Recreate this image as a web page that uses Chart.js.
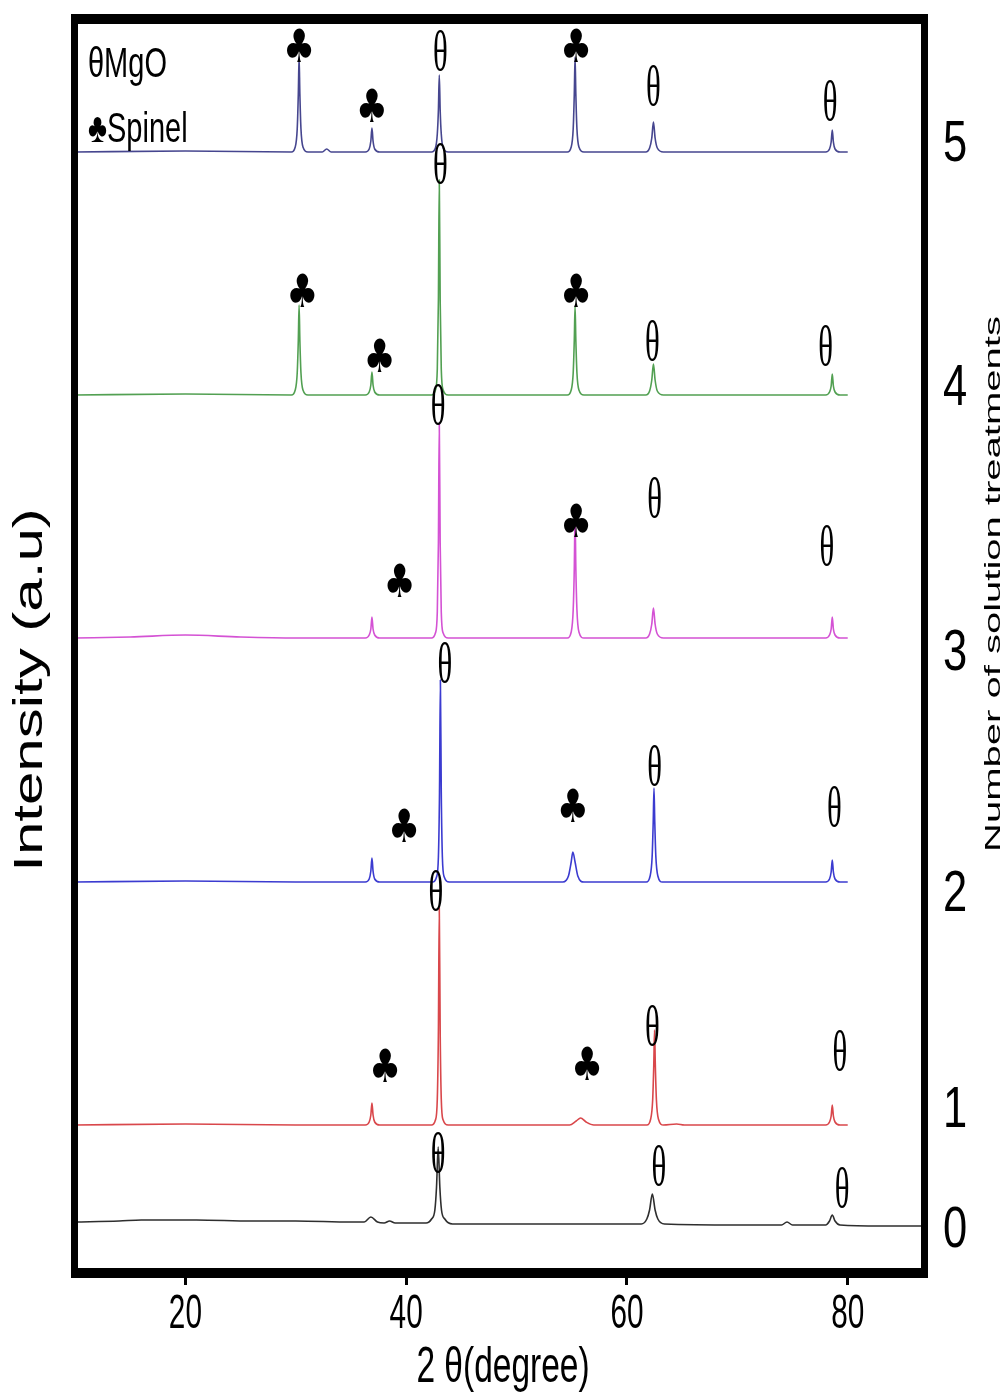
<!DOCTYPE html>
<html>
<head>
<meta charset="utf-8">
<title>XRD patterns after solution treatments</title>
<script src="https://cdn.jsdelivr.net/npm/chart.js@4.4.1/dist/chart.umd.min.js"></script>
<style>
  html, body { margin: 0; padding: 0; background: #fff; }
  canvas { display: block; }
</style>
</head>
<body>
<canvas id="xrdChart" width="1008" height="1398"></canvas>
<script>
// 2theta axis
const xMin = 10;
const xMax = 87;
const xTickValues = [20, 40, 60, 80];

// number of solution treatments, one pattern each (stacked bottom to top)
const treatmentLabels = ['0', '1', '2', '3', '4', '5'];
const treatmentLabelLevels = [46, 166, 383, 623, 888, 1132];
const offsets = [51, 148, 391, 635, 878, 1121];
const colors = ['#2e2e2e', '#d9474b', '#3b3bd0', '#d452d4', '#52a052', '#46468f'];

// [2theta, intensity above the pattern's own baseline]
const pattern0 = [
  [10, 0], [14, 1], [16, 2], [21, 2], [26, 1], [30, 1], [35, 0], [36.2, 0], [36.8, 5], [37.4, 0],
  [38.0, -1], [38.5, 1], [39.0, -1], [41.8, -1], [42.3, 3], [42.6, 12], [42.75, 35], [42.9, 75],
  [43.05, 35], [43.2, 12], [43.5, 3], [44.2, -2], [50, -2], [61.3, -2], [61.8, 3], [62.05, 12],
  [62.3, 28], [62.55, 12], [62.8, 3], [63.4, -2], [70, -3], [74.0, -3], [74.5, 0], [75.0, -3],
  [78.0, -3], [78.35, 1], [78.6, 7], [78.85, 1], [79.3, -3], [83, -4], [87, -4]
];
const pattern1 = [
  [10, 0], [20, 1], [30, 0], [36.3, 0], [36.65, 3], [36.8, 10], [36.9, 22], [37.0, 10], [37.15, 3],
  [37.6, 0], [42.3, 0], [42.65, 5], [42.82, 26], [42.92, 95], [43.0, 217], [43.08, 95], [43.18, 26],
  [43.35, 5], [43.8, 0], [54.8, 0], [55.4, 4], [55.8, 7], [56.3, 3], [57.0, 0], [61.8, 0],
  [62.15, 6], [62.33, 25], [62.43, 60], [62.5, 95], [62.57, 60], [62.67, 25], [62.85, 6], [63.3, 0],
  [64.5, 1], [65.2, 0], [78.0, 0], [78.35, 3], [78.5, 9], [78.6, 20], [78.7, 9], [78.85, 3],
  [79.3, 0], [80, 0]
];
const pattern2 = [
  [10, 0], [20, 1], [30, 0], [36.3, 0], [36.65, 3], [36.8, 11], [36.9, 24], [37.0, 11], [37.15, 3],
  [37.6, 0], [42.4, 0], [42.75, 5], [42.92, 25], [43.02, 90], [43.1, 202], [43.18, 90], [43.28, 25],
  [43.45, 5], [43.9, 0], [54.2, 0], [54.7, 6], [54.95, 20], [55.1, 30], [55.3, 20], [55.55, 6],
  [56.1, 0], [61.75, 0], [62.1, 6], [62.28, 25], [62.38, 60], [62.45, 94], [62.52, 60], [62.62, 25],
  [62.8, 6], [63.2, 0], [78.0, 0], [78.35, 3], [78.5, 10], [78.6, 22], [78.7, 10], [78.85, 3],
  [79.3, 0], [80, 0]
];
const pattern3 = [
  [10, 0], [15, 1], [20, 3], [25, 1], [30, 0], [36.3, 0], [36.65, 3], [36.8, 9], [36.9, 21],
  [37.0, 9], [37.15, 3], [37.6, 0], [42.3, 0], [42.65, 5], [42.82, 26], [42.92, 95], [43.0, 215],
  [43.08, 95], [43.18, 26], [43.35, 5], [43.8, 0], [54.6, 0], [54.95, 6], [55.13, 28], [55.23, 70],
  [55.3, 123], [55.37, 70], [55.47, 28], [55.65, 6], [56.1, 0], [61.7, 0], [62.05, 4], [62.25, 14],
  [62.4, 30], [62.55, 14], [62.75, 4], [63.3, 0], [78.0, 0], [78.35, 3], [78.5, 9], [78.6, 21],
  [78.7, 9], [78.85, 3], [79.3, 0], [80, 0]
];
const pattern4 = [
  [10, 0], [20, 1], [29.6, 0], [29.95, 5], [30.13, 22], [30.23, 55], [30.3, 90], [30.37, 55],
  [30.47, 22], [30.65, 5], [31.1, 0], [36.3, 0], [36.65, 3], [36.8, 10], [36.9, 23], [37.0, 10],
  [37.15, 3], [37.6, 0], [42.3, 0], [42.65, 5], [42.82, 26], [42.92, 95], [43.0, 215], [43.08, 95],
  [43.18, 26], [43.35, 5], [43.8, 0], [54.6, 0], [54.95, 5], [55.13, 22], [55.23, 55], [55.3, 89],
  [55.37, 55], [55.47, 22], [55.65, 5], [56.1, 0], [61.7, 0], [62.05, 4], [62.25, 15], [62.4, 31],
  [62.55, 15], [62.75, 4], [63.3, 0], [78.0, 0], [78.35, 3], [78.5, 9], [78.6, 21], [78.7, 9],
  [78.85, 3], [79.3, 0], [80, 0]
];
const pattern5 = [
  [10, 0], [20, 1], [29.6, 0], [29.95, 5], [30.13, 23], [30.23, 58], [30.3, 95], [30.37, 58],
  [30.47, 23], [30.65, 5], [31.1, 0], [32.4, 0], [32.8, 3], [33.2, 0], [36.3, 0], [36.65, 3],
  [36.8, 11], [36.9, 24], [37.0, 11], [37.15, 3], [37.6, 0], [42.3, 0], [42.65, 4], [42.82, 18],
  [42.92, 42], [43.0, 77], [43.08, 42], [43.18, 18], [43.35, 4], [43.8, 0], [54.6, 0], [54.95, 5],
  [55.13, 23], [55.23, 58], [55.3, 95], [55.37, 58], [55.47, 23], [55.65, 5], [56.1, 0], [61.7, 0],
  [62.05, 4], [62.25, 14], [62.4, 30], [62.55, 14], [62.75, 4], [63.3, 0], [78.0, 0], [78.35, 3],
  [78.5, 10], [78.6, 22], [78.7, 10], [78.85, 3], [79.3, 0], [80, 0]
];
const patterns = [pattern0, pattern1, pattern2, pattern3, pattern4, pattern5];

// phase marks: [pattern, 2theta, height above baseline, symbol]
const THETA = '\u03B8';
const CLUB = '\u2663';
const phaseMarks = [
  [5, 30.3, 107, CLUB], [5, 36.9, 47, CLUB], [5, 43.1, 102, THETA], [5, 55.4, 107, CLUB],
  [5, 62.4, 67, THETA], [5, 78.4, 52, THETA],
  [4, 43.1, 232, THETA], [4, 30.6, 105, CLUB], [4, 37.6, 40, CLUB], [4, 55.4, 105, CLUB],
  [4, 62.3, 55, THETA], [4, 78.0, 50, THETA],
  [3, 42.9, 234, THETA], [3, 39.4, 58, CLUB], [3, 55.4, 118, CLUB], [3, 62.5, 141, THETA],
  [3, 78.1, 93, THETA],
  [2, 43.5, 220, THETA], [2, 39.8, 57, CLUB], [2, 55.1, 77, CLUB], [2, 62.5, 117, THETA],
  [2, 78.8, 76, THETA],
  [1, 42.7, 235, THETA], [1, 38.1, 60, CLUB], [1, 56.4, 62, CLUB], [1, 62.3, 100, THETA],
  [1, 79.3, 75, THETA],
  [0, 42.9, 70, THETA], [0, 62.9, 57, THETA], [0, 79.5, 35, THETA]
];

const drawLabel = (ctx, text, x, y, opts) => {
  ctx.save();
  ctx.translate(x, y);
  ctx.rotate(opts.rotate || 0);
  ctx.scale(opts.sx || 1, opts.sy || 1);
  ctx.font = opts.font;
  ctx.fillStyle = '#000';
  ctx.textAlign = opts.align || 'center';
  ctx.textBaseline = 'alphabetic';
  let dy = 0;
  if (!opts.onBaseline) {
    const m = ctx.measureText(text);
    dy = (m.actualBoundingBoxAscent - m.actualBoundingBoxDescent) / 2;
  }
  ctx.fillText(text, 0, dy);
  ctx.restore();
};

const sans = "'Liberation Sans', Arial, 'DejaVu Sans', sans-serif";
const serif = "'Liberation Serif', 'Times New Roman', 'DejaVu Serif', serif";

const decorations = {
  id: 'decorations',
  beforeDraw(chart) {
    const ctx = chart.ctx;
    ctx.save();
    ctx.fillStyle = '#fff';
    ctx.fillRect(0, 0, chart.width, chart.height);
    ctx.restore();
  },
  afterDatasetsDraw(chart) {
    const { ctx, chartArea: a, scales: { x, y } } = chart;

    // heavy frame
    ctx.save();
    ctx.fillStyle = '#000';
    ctx.fillRect(a.left - 4, a.top - 5, a.right - a.left + 7, 10);
    ctx.fillRect(a.left - 4, a.bottom - 5, a.right - a.left + 7, 10);
    ctx.fillRect(a.left - 4, a.top - 5, 7, a.bottom - a.top + 10);
    ctx.fillRect(a.right - 4, a.top - 5, 7, a.bottom - a.top + 10);
    ctx.restore();

    // phase marks over the peaks
    phaseMarks.forEach(([i, t, h, s]) => {
      const px = x.getPixelForValue(t);
      const py = y.getPixelForValue(offsets[i] + h);
      if (s === THETA) {
        drawLabel(ctx, s, px, py, { font: `56px ${serif}`, sx: 0.55 });
      } else {
        drawLabel(ctx, s, px, py, { font: "46px 'DejaVu Sans', sans-serif", sx: 0.78 });
      }
    });

    // key
    drawLabel(ctx, THETA + 'MgO', a.left + 13, a.top + 58, { font: `42px ${sans}`, sx: 0.69, align: 'left', onBaseline: true });
    drawLabel(ctx, CLUB + 'Spinel', a.left + 13, a.top + 123, { font: `42px ${sans}`, sx: 0.69, align: 'left', onBaseline: true });

    // 2theta tick labels
    xTickValues.forEach(v => {
      drawLabel(ctx, String(v), x.getPixelForValue(v), a.bottom + 38, { font: `48px ${sans}`, sx: 0.62 });
    });
    drawLabel(ctx, '2 ' + THETA + '(degree)', (a.left + a.right) / 2 + 3, a.bottom + 96, { font: `50px ${sans}`, sx: 0.67 });

    // left title
    drawLabel(ctx, 'Intensity (a.u)', 31, 690, { font: `60px ${sans}`, rotate: -Math.PI / 2, sy: 0.68 });

    // treatment count at the right of each pattern
    treatmentLabels.forEach((lab, i) => {
      drawLabel(ctx, lab, a.right + 30, y.getPixelForValue(treatmentLabelLevels[i]), { font: `58px ${sans}`, sx: 0.75 });
    });
    drawLabel(ctx, 'Number of solution treatments', 992, 584, { font: `40px ${sans}`, rotate: -Math.PI / 2, sy: 0.55 });
  }
};

const datasets = patterns.map((p, i) => ({
  label: treatmentLabels[i],
  data: p.map(([t, v]) => ({ x: t, y: v + offsets[i] })),
  borderColor: colors[i],
  borderWidth: 1.6,
  pointRadius: 0,
  cubicInterpolationMode: 'monotone',
  fill: false
}));

const ctx = document.getElementById('xrdChart').getContext('2d');
const xrdChart = new Chart(ctx, {
  type: 'line',
  data: { datasets: datasets },
  options: {
    responsive: false,
    animation: false,
    devicePixelRatio: 1,
    layout: { padding: { left: 75, right: 83, top: 19, bottom: 0 } },
    plugins: { legend: { display: false }, tooltip: { enabled: false } },
    scales: {
      x: {
        type: 'linear',
        min: xMin,
        max: xMax,
        afterBuildTicks: s => { s.ticks = xTickValues.map(v => ({ value: v })); },
        afterFit: s => { s.height = 125; },
        ticks: { display: false },
        border: { display: false },
        grid: { drawOnChartArea: false, drawTicks: true, tickLength: 12, tickWidth: 3, tickColor: '#000' }
      },
      y: {
        type: 'linear',
        display: false,
        min: 0,
        max: 1254
      }
    }
  },
  plugins: [decorations]
});
</script>
</body>
</html>
